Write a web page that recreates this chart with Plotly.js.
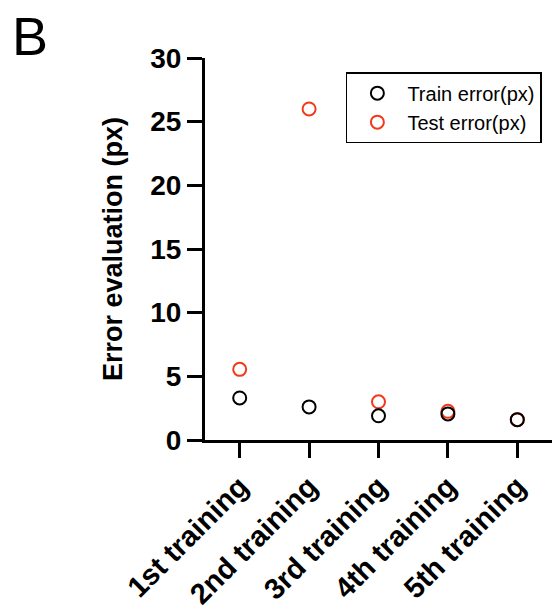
<!DOCTYPE html>
<html><head><meta charset="utf-8">
<script src="https://cdn.plot.ly/plotly-3.0.1.min.js"></script>
<style>body{margin:0;background:#fff}#chart{width:552px;height:612px}</style>
</head><body><div id="chart"></div>
<script>
const categories = ["1st training", "2nd training", "3rd training", "4th training", "5th training"];
const trainError = [3.3, 2.6, 1.9, 2.05, 1.6];
const testError = [5.55, 26.0, 3.0, 2.25, 1.6];
const yTicks = [0, 5, 10, 15, 20, 25, 30];

const font = "Liberation Sans, Arial, sans-serif";
const traces = [
  {x: categories, y: testError, name: "Test error(px)", type: "scatter", mode: "markers",
   marker: {symbol: "circle-open", size: 13, color: "#F2391C", line: {width: 2, color: "#F2391C"}}},
  {x: categories, y: trainError, name: "Train error(px)", type: "scatter", mode: "markers",
   marker: {symbol: "circle-open", size: 13, color: "#000", line: {width: 2, color: "#000"}}}
];
const layout = {
  width: 552, height: 612,
  margin: {l: 205, r: 0, t: 58, b: 172},
  paper_bgcolor: "#fff", plot_bgcolor: "#fff",
  showlegend: true,
  legend: {x: 0.406, y: 0.963, xanchor: "left", yanchor: "top", traceorder: "reversed",
    bordercolor: "#000", borderwidth: 1.5, bgcolor: "#fff",
    font: {family: font, size: 20, color: "#000"}, itemwidth: 50},
  xaxis: {type: "category", range: [-0.5, 4.5], showgrid: false, zeroline: false,
    showline: true, linecolor: "#000", linewidth: 3,
    ticks: "outside", ticklen: 15, tickwidth: 3, tickcolor: "#000",
    tickangle: -45, tickfont: {family: font, size: 29, color: "#000", weight: "bold"}},
  yaxis: {range: [0, 30], tickvals: yTicks, showgrid: false, zeroline: false,
    showline: true, linecolor: "#000", linewidth: 3,
    ticks: "outside", ticklen: 15, tickwidth: 3, tickcolor: "#000",
    tickfont: {family: font, size: 28, color: "#000", weight: "bold"},
    title: {text: "Error evaluation (px)", font: {family: font, size: 27, color: "#000", weight: "bold"}, standoff: 20}},
  annotations: [{text: "B", xref: "paper", yref: "paper", x: 0, y: 0, xanchor: "left", yanchor: "middle",
    showarrow: false, font: {family: font, size: 54, color: "#000"}}]
};
layout.annotations[0].x = (10 - 205) / 347;
layout.annotations[0].y = (440 - 36) / 382;
Plotly.newPlot("chart", traces, layout, {displayModeBar: false, staticPlot: true});
</script></body></html>
